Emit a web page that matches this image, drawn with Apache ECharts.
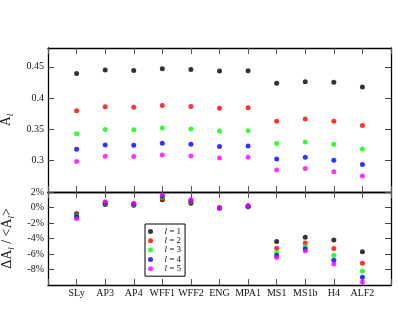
<!DOCTYPE html>
<html>
<head>
<meta charset="utf-8">
<script src="https://cdn.jsdelivr.net/npm/echarts@6/dist/echarts.min.js"></script>
<style>html,body{margin:0;padding:0;background:#fff}#c{width:415px;height:321px}</style>
</head>
<body>
<div id="c"></div>
<script>
const categories = ['SLy','AP3','AP4','WFF1','WFF2','ENG','MPA1','MS1','MS1b','H4','ALF2'];
const seriesNames = ['1','2','3','4','5'];
const colors = ['#000000','#ff0000','#00ff00','#0000ff','#ff00ff'];
// top panel: mean A_l
const top1 = [0.4394,0.4448,0.4441,0.4468,0.4457,0.4431,0.4437,0.4235,0.4262,0.4251,0.4178];
const top2 = [0.3797,0.3860,0.3854,0.3881,0.3865,0.3838,0.3844,0.3632,0.3664,0.3632,0.3564];
const top3 = [0.3432,0.3500,0.3495,0.3521,0.3505,0.3473,0.3480,0.3273,0.3299,0.3262,0.3188];
const top4 = [0.3183,0.3250,0.3246,0.3278,0.3262,0.3225,0.3235,0.3029,0.3056,0.3008,0.2940];
const top5 = [0.2989,0.3072,0.3067,0.3092,0.3076,0.3045,0.3056,0.2850,0.2876,0.2822,0.2754];
// bottom panel: relative deviation (%)
const rel1 = [-0.8,0.4,0.3,1.0,0.55,-0.05,0.1,-4.4,-3.85,-4.18,-5.7];
const rel2 = [-0.95,0.5,0.35,1.1,0.7,-0.05,0.1,-5.25,-4.57,-5.3,-7.2];
const rel3 = [-1.05,0.55,0.4,1.3,0.8,-0.05,0.15,-5.8,-5.04,-6.15,-8.2];
const rel4 = [-1.2,0.6,0.45,1.5,0.9,-0.05,0.2,-6.2,-5.34,-6.8,-9.0];
const rel5 = [-1.45,0.75,0.55,1.6,1.0,-0.05,0.25,-6.45,-5.6,-7.3,-9.6];
const topTicks = [0.3,0.35,0.4,0.45];
const bottomTicks = [2,0,-2,-4,-6,-8];

const topData = [top1,top2,top3,top4,top5];
const relData = [rel1,rel2,rel3,rel4,rel5];
const FONT = '"Liberation Serif", "DejaVu Serif", serif';
const axisCats = [''].concat(categories, ['']);

function xAx(gridIndex, position, showLabel){
  return {
    type:'category', gridIndex, position, data: axisCats, boundaryGap:false,
    axisLine:{show:true, onZero:false, lineStyle:{color:'#000', width:1.3}},
    axisTick:{show:true, inside:true, length:6, interval:0, lineStyle:{color:'#555', width:1}},
    axisLabel:{show:showLabel, interval:0, margin:3, color:'#111', fontFamily:FONT, fontSize:10},
    splitLine:{show:false}
  };
}
function yAx(gridIndex, position, min, max, interval, ticks, showLabel, fmt, extra){
  return Object.assign({
    type:'value', gridIndex, position, min, max, interval,
    axisLine:{show:true, onZero:false, lineStyle:{color:'#000', width:1.3}},
    axisTick:{show:true, inside:true, length:6, customValues: ticks, lineStyle:{color:'#444', width:1}},
    axisLabel:{show:showLabel, margin:4, color:'#111', fontFamily:FONT, fontSize:10,
      customValues: ticks, formatter: fmt},
    splitLine:{show:false}
  }, extra||{});
}

const richName = {
  a:{fontFamily:FONT, fontSize:14, color:'#111', lineHeight:19},
  s:{fontFamily:FONT, fontSize:8.5, fontStyle:'italic', color:'#111', verticalAlign:'bottom', lineHeight:12}
};

const series = [];
seriesNames.forEach((n,k)=>{
  series.push({name:n, type:'scatter', xAxisIndex:0, yAxisIndex:0, symbol:'circle', symbolSize:5,
    itemStyle:{color:colors[k]}, data: categories.map((c,i)=>[c, topData[k][i]])});
});
seriesNames.forEach((n,k)=>{
  series.push({name:n, type:'scatter', xAxisIndex:2, yAxisIndex:2, symbol:'circle', symbolSize:5,
    itemStyle:{color:colors[k]}, data: categories.map((c,i)=>[c, relData[k][i]])});
});

const chart = echarts.init(document.getElementById('c'), null, {renderer:'canvas'});
chart.setOption({
  animation:false,
  backgroundColor:'#fff',
  grid:[
    {left:48, top:48, right:24, height:144, outerBoundsMode:'none', containLabel:false},
    {left:48, top:192, right:24, height:93, outerBoundsMode:'none', containLabel:false}
  ],
  xAxis:[xAx(0,'bottom',false), xAx(0,'top',false), xAx(1,'bottom',true), xAx(1,'top',false)],
  yAxis:[
    yAx(0,'left',0.25,0.48,0.05,topTicks,true, v=>String(Math.round(v*100)/100),
      {name:'{a|Ā}{s|l}', nameLocation:'middle', nameRotate:90, nameGap:22, nameTextStyle:{rich:richName}}),
    yAx(0,'right',0.25,0.48,0.05,topTicks,false),
    yAx(1,'left',-10,2,2,bottomTicks,true, v=>Math.round(v)+'%',
      {name:'{a|ΔĀ}{s|l}{a| / <Ā}{s|l}{a|>}', nameLocation:'middle', nameRotate:90, nameGap:22, nameTextStyle:{rich:richName}}),
    yAx(1,'right',-10,2,2,bottomTicks,false)
  ],
  legend:{
    data: seriesNames, orient:'vertical', left:145, top:224,
    backgroundColor:'#fff', borderColor:'#000', borderWidth:1,
    padding:[3,4,3,3], itemGap:0.3, itemWidth:10, itemHeight:5, icon:'circle',
    formatter: n=>'{i|l} = '+n,
    textStyle:{fontFamily:FONT, fontSize:9, lineHeight:9, color:'#111', padding:[0,0,0,4],
      rich:{i:{fontFamily:FONT, fontSize:9, fontStyle:'italic', lineHeight:9}}}
  },
  series
});
</script>
</body>
</html>
